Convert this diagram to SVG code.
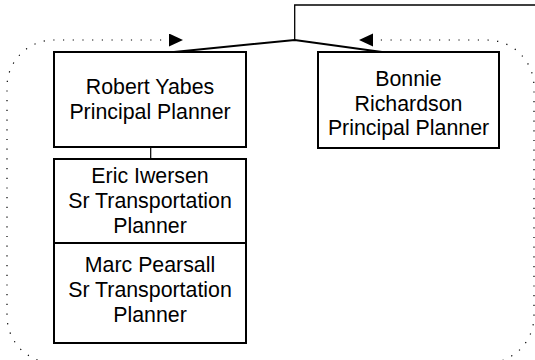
<svg xmlns="http://www.w3.org/2000/svg" width="535" height="360" viewBox="0 0 535 360">
<defs>
<marker id="arr" markerWidth="16" markerHeight="14" refX="14" refY="6.5" orient="auto" markerUnits="userSpaceOnUse">
<path d="M0,0 L14,6.5 L0,13 Z" fill="#000"/>
</marker>
<style>
.box{fill:#fff;stroke:#000;stroke-width:2}
.t{font-family:"Liberation Sans",Arial,sans-serif;font-size:21.33px;fill:#000;text-anchor:middle}
.dot{fill:none;stroke:#000;stroke-width:1.2;stroke-dasharray:1.2 8.5}
.ln{fill:none;stroke:#000}
</style>
</defs>
<rect width="535" height="360" fill="#fff"/>
<g id="connectors">
<path class="dot" d="M270,363 L54,363 A47,47 0 0 1 7,316 L7,87 A47,47 0 0 1 54,40 L183,40" marker-end="url(#arr)"/>
<path class="dot" d="M270,363 L487,363 A47,47 0 0 0 534,316 L534,87 A47,47 0 0 0 487,40 L359,40" marker-end="url(#arr)"/>
<path class="ln" stroke-width="1.3" d="M535,5 L294.7,5 L294.7,40"/>
<path class="ln" stroke-width="2" d="M174,52 L294.7,40 L382,52"/>
<path class="ln" stroke="#808080" stroke-width="1.2" d="M150.7,147 L150.7,159"/>
</g>
<g id="robert">
<rect class="box" x="54" y="52" width="192" height="95"/>
<text class="t" x="150" y="94">Robert Yabes</text>
<text class="t" x="150" y="119">Principal Planner</text>
</g>
<g id="bonnie">
<rect class="box" x="318" y="52" width="181" height="96"/>
<text class="t" x="408.5" y="86">Bonnie</text>
<text class="t" x="408.5" y="110.5">Richardson</text>
<text class="t" x="408.5" y="135">Principal Planner</text>
</g>
<g id="eric">
<rect class="box" x="54" y="159" width="192" height="84"/>
<text class="t" x="150" y="183">Eric Iwersen</text>
<text class="t" x="150" y="208">Sr Transportation</text>
<text class="t" x="150" y="233">Planner</text>
</g>
<g id="marc">
<rect class="box" x="54" y="243" width="192" height="100"/>
<text class="t" x="150" y="272">Marc Pearsall</text>
<text class="t" x="150" y="297">Sr Transportation</text>
<text class="t" x="150" y="322">Planner</text>
</g>
</svg>
